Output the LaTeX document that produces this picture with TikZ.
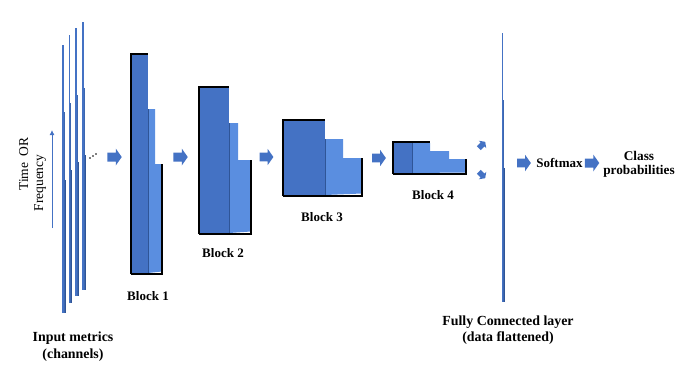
\documentclass[tikz,border=0pt]{standalone}
\usepackage{fontspec}
\setmainfont{Liberation Serif}
\usetikzlibrary{arrows.meta}
\definecolor{blkA}{HTML}{4472C4}
\definecolor{blkB}{HTML}{5A8EE0}
\definecolor{blkD}{HTML}{2F5597}
\newcommand{\myblock}[8]{%
  \fill[blkB] (#2,#6) -- (#3,#6) -- (#3,#7) -- (#4,#7) -- (#4,#8-2.5) -- (#2,#8-1) -- cycle;
  \fill[blkA] (#1,#5) rectangle (#2,#8-1);
  \draw[blkD, line width=0.9pt] (#2,#6) -- (#2,#8-1);
  \draw[black, line width=1.4pt] (#1,#8) -- (#1,#5) -- (#2,#5);
  \draw[black, line width=1.4pt] (#4,#7) -- (#4,#8) -- (#1,#8);
}
\newcommand{\mychan}[5]{%
  \fill[blkA] (#1,#2) rectangle ++(1.3,#5-#2);
  \fill[blkA!90!black] (#1+1.3,#3) rectangle ++(1.2,#5-#3);
  \fill[blkD] (#1+2.5,#4) rectangle ++(1.1,#5-#4);
}
\newcommand{\blockarrow}[5]{%
  \begin{scope}[shift={(#2,#3)}, rotate=#4, scale=#5]
    \fill[blkA] (-7.25,-4.5) -- (1.25,-4.5) -- (1.25,-8.5) -- (7.25,0) -- (1.25,8.5) -- (1.25,4.5) -- (-7.25,4.5) -- cycle;
  \end{scope}
  \coordinate (#1) at (#2,#3);
}
\tikzset{
  lbl/.style={font=\fontsize{13}{16}\selectfont\bfseries, inner sep=0pt, align=center},
  blbl/.style={font=\fontsize{13.9}{16.5}\selectfont\bfseries, inner sep=0pt, align=center},
  rlbl/.style={font=\fontsize{13.5}{16}\selectfont, inner sep=0pt, rotate=90, anchor=base},
}
\begin{document}
\begin{tikzpicture}[x=1pt,y=-1pt]
\useasboundingbox (0,0) rectangle (677,381);
% input channels
\mychan{62.3}{45}{112}{180}{313}
\mychan{68.7}{35}{103}{170}{303}
\mychan{75.3}{28}{95}{162}{296}
\mychan{82.3}{22}{88}{155}{290}
\fill (90,158) circle (0.9) (93,156) circle (0.9) (96,154) circle (0.9);
% time axis
\coordinate (tb) at (52,228);
\coordinate (tt) at (52,130);
\draw[blkA, line width=0.9pt, -{Latex[length=5pt,width=5pt]}] (tb) -- (tt);
\node[rlbl] (time) at (28,164) {Time\ \ OR};
\node[rlbl] (freq) at (43,183) {Frequency};
% blocks
\myblock{131}{148}{155}{162}{54}{109}{164}{274}
\myblock{199}{229}{238}{251}{87}{123}{160}{234}
\myblock{283}{325}{343}{362}{120}{139}{158}{196}
% block 4
\fill[blkB] (412,143) -- (430,143) -- (430,151) -- (449,151) -- (449,159) -- (466,159) -- (466,172.5) -- (412,173) -- cycle;
\fill[blkA] (393,142) rectangle (412,173);
\draw[blkD, line width=0.9pt] (412,143) -- (412,173);
\draw[black, line width=1.4pt] (393,174) -- (393,142) -- (430,142);
\draw[black, line width=1.4pt] (466,159) -- (466,174) -- (393,174);
% FC layer
\mychan{501.7}{33}{100}{168}{302}
% arrows
\blockarrow{a1}{114.5}{157}{0}{1}
\blockarrow{a2}{180.5}{157}{0}{1}
\blockarrow{a3}{266.5}{157}{0}{0.95}
\blockarrow{a4}{379}{158}{0}{0.95}
\blockarrow{s1}{482}{145}{45}{0.62}
\blockarrow{s2}{482}{175}{-45}{0.62}
\blockarrow{a5}{524}{163}{0}{0.95}
\blockarrow{a6}{592}{163}{0}{1}
% labels
\node[lbl] (b1) at (148,296) {Block 1};
\node[lbl] (b2) at (223,253) {Block 2};
\node[lbl] (b3) at (322,217) {Block 3};
\node[lbl] (b4) at (433,195) {Block 4};
\node[blbl] (inp) at (73,346.5) {Input metrics\\(channels)};
\node[blbl] (fc) at (508,330) {Fully Connected layer\\(data flattened)};
\node[lbl] (sm) at (559.5,163) {Softmax};
\node[lbl, font=\fontsize{13.3}{14}\selectfont\bfseries] (cp) at (639,164) {Class\\probabilities};
\end{tikzpicture}
\end{document}
